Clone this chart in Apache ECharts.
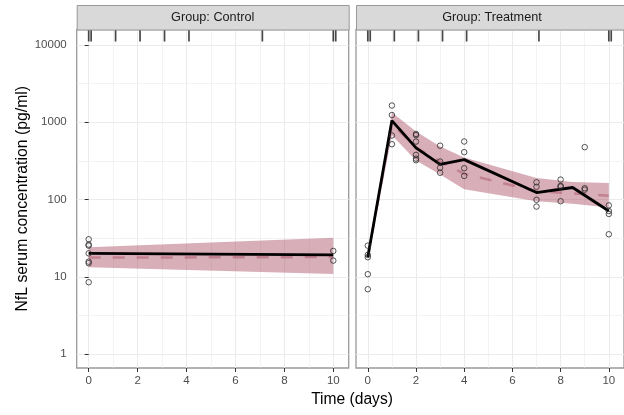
<!DOCTYPE html>
<html><head><meta charset="utf-8">
<script src="https://cdn.jsdelivr.net/npm/echarts@6/dist/echarts.min.js"></script>
<style>html,body{margin:0;padding:0;background:#fff}#c{width:624px;height:415px}</style>
</head><body><div id="c"></div>
<script>
const panelTitles = ['Group: Control', 'Group: Treatment'];
const xTicks = [0, 2, 4, 6, 8, 10];
const xMinor = [1, 3, 5, 7, 9];
const yTicks = [1, 10, 100, 1000, 10000];
const yMinor = [3.16, 31.6, 316, 3160];
const rugTimes = [0, 0.1, 1.1, 2.1, 3.1, 4.1, 7.1, 10, 10.1];

const ctrlObsTime = [0, 0, 0, 0, 0, 0, 0, 10, 10];
const ctrlObsConc = [30.6, 26.1, 25.3, 20.1, 15.7, 15.0, 8.5, 21.6, 16.2];
const ctrlMedTime = [0, 10];
const ctrlMedConc = [20.1, 19.2];
const ctrlBandTime = [0, 10];
const ctrlBandLow = [13.3, 10.9];
const ctrlBandHigh = [24.1, 32.1];
const ctrlPredMed = [17.7, 18.0];

const trtObsTime = [0, 0, 0, 0, 0, 1, 1, 1, 1, 2, 2, 2, 2, 2, 2, 3, 3, 3, 3, 4, 4, 4, 4, 7, 7, 7, 7, 8, 8, 8, 8, 9, 9, 9, 10, 10, 10, 10];
const trtObsConc = [25.3, 19.2, 17.9, 10.8, 6.9, 1645, 1240, 673, 520, 705, 681, 562, 378, 338, 322, 497, 310, 258, 222, 563, 410, 254, 202, 167, 146, 99, 81, 181, 150, 147, 95, 476, 140, 134, 84, 71, 65, 35.5];
const trtMedTime = [0, 1, 2, 3, 4, 7, 8.5, 10];
const trtMedConc = [18, 1050, 465, 285, 328, 123, 143, 71];
const trtBandTime = [0, 1, 2, 3, 4, 7, 8.5, 10];
const trtBandLow = [16.5, 680, 320, 210, 136, 95, 88, 79];
const trtBandHigh = [20, 1340, 760, 485, 350, 190, 168, 163];
const trtPredMed = [18, 950, 470, 310, 215, 128, 120, 112];

const FONT = '"Liberation Sans", Arial, Helvetica, sans-serif';
const X_MIN = -0.49, X_MAX = 10.63, Y_MIN = 0.66, Y_MAX = 15850;
const GRID_TOP = 29.5, GRID_H = 338.5, GRID_W = 272;
const gridLefts = [76.7, 356];

const chart = echarts.init(document.getElementById('c'), null, {renderer: 'canvas'});

function xAxisCfg(gi) {
  return {
    type: 'value', gridIndex: gi, min: X_MIN, max: X_MAX,
    axisLine: {show: false},
    axisTick: {show: true, length: 4, customValues: xTicks, lineStyle: {color: '#333', width: 1}},
    axisLabel: {customValues: xTicks, margin: 7, color: '#4d4d4d', fontSize: 11.5, fontFamily: FONT},
    splitLine: {show: true, lineStyle: {color: '#ebebeb', width: 1}}
  };
}
function yAxisCfg(gi) {
  const left = gi === 0;
  const c = {
    type: 'log', logBase: 10, gridIndex: gi, min: Y_MIN, max: Y_MAX,
    axisLine: {show: false},
    axisTick: {show: left, length: 4, customValues: yTicks, lineStyle: {color: '#333', width: 1}},
    axisLabel: {show: left, customValues: yTicks, margin: 10, color: '#4d4d4d', fontSize: 11.5, fontFamily: FONT,
      formatter: v => String(Math.round(v))},
    splitLine: {show: true, lineStyle: {color: '#ebebeb', width: 1}}
  };
  if (left) {
    c.name = 'NfL serum concentration (pg/ml)';
    c.nameLocation = 'middle';
    c.nameGap = 46;
    c.nameRotate = 90;
    c.nameTextStyle = {fontSize: 15.8, color: '#000', fontFamily: FONT};
  }
  return c;
}

function bandSeries(gi, t, lo, hi) {
  return {
    type: 'custom', xAxisIndex: gi, yAxisIndex: gi, z: 2, silent: true,
    data: t.map((v, i) => [v, lo[i], hi[i]]),
    renderItem: function (params, api) {
      if (params.dataIndex !== 0) return;
      const pts = [];
      for (let i = 0; i < t.length; i++) pts.push(api.coord([t[i], hi[i]]));
      for (let i = t.length - 1; i >= 0; i--) pts.push(api.coord([t[i], lo[i]]));
      return {type: 'polygon', shape: {points: pts}, style: {fill: 'rgba(169,75,97,0.45)'}};
    }
  };
}
function minorSeries(gi) {
  return {
    type: 'line', xAxisIndex: gi, yAxisIndex: gi, data: [], z: 1, silent: true,
    markLine: {
      z: 1, silent: true, symbol: 'none', label: {show: false}, animation: false,
      lineStyle: {color: '#ebebeb', width: 0.6, type: 'solid'},
      data: xMinor.map(v => ({xAxis: v})).concat(yMinor.map(v => ({yAxis: v})))
    }
  };
}
function predMedSeries(gi, t, v) {
  return {type: 'line', xAxisIndex: gi, yAxisIndex: gi, z: 3, silent: true, showSymbol: false,
    data: t.map((x, i) => [x, v[i]]),
    lineStyle: {color: 'rgba(169,75,97,0.45)', width: 2.5, type: [12, 12]}};
}
function medSeries(gi, t, v) {
  return {type: 'line', xAxisIndex: gi, yAxisIndex: gi, z: 4, silent: true, showSymbol: false,
    data: t.map((x, i) => [x, v[i]]),
    lineStyle: {color: '#000', width: 2.8}};
}
function obsSeries(gi, t, v) {
  return {type: 'scatter', xAxisIndex: gi, yAxisIndex: gi, z: 5, silent: true,
    symbol: 'circle', symbolSize: 5.5,
    data: t.map((x, i) => [x, v[i]]),
    itemStyle: {color: 'rgba(0,0,0,0)', borderColor: '#2b2b2b', borderWidth: 1}};
}
function rugSeries(gi) {
  return {type: 'scatter', xAxisIndex: gi, yAxisIndex: gi, z: 6, silent: true, clip: false,
    symbol: 'rect', symbolSize: [1.7, 12], symbolOffset: [0, 6],
    data: rugTimes.map(x => [x, Y_MAX]),
    itemStyle: {color: '#1a1a1a'}};
}

const graphics = [];
gridLefts.forEach((l, i) => {
  graphics.push({type: 'rect', left: l, top: 5, z: 10,
    shape: {x: 0, y: 0, width: GRID_W, height: GRID_TOP - 5},
    style: {fill: '#d9d9d9', stroke: '#999', lineWidth: 1}});
  graphics.push({type: 'text', x: l + GRID_W / 2, y: 17.5, z: 11,
    style: {text: panelTitles[i], fill: '#1a1a1a', font: '12.7px ' + FONT, textAlign: 'center', textVerticalAlign: 'middle'}});
});
graphics.push({type: 'text', x: 352, y: 400, z: 11,
  style: {text: 'Time (days)', fill: '#000', font: '15.6px ' + FONT, textAlign: 'center', textVerticalAlign: 'middle'}});

const option = {
  animation: false,
  backgroundColor: '#fff',
  textStyle: {fontFamily: FONT},
  grid: gridLefts.map(l => ({left: l, top: GRID_TOP, width: GRID_W, height: GRID_H,
    show: true, backgroundColor: '#fff', borderColor: '#999', borderWidth: 1.3, containLabel: false})),
  xAxis: [xAxisCfg(0), xAxisCfg(1)],
  yAxis: [yAxisCfg(0), yAxisCfg(1)],
  graphic: graphics,
  series: [
    minorSeries(0), minorSeries(1),
    bandSeries(0, ctrlBandTime, ctrlBandLow, ctrlBandHigh),
    bandSeries(1, trtBandTime, trtBandLow, trtBandHigh),
    predMedSeries(0, ctrlBandTime, ctrlPredMed),
    predMedSeries(1, trtBandTime, trtPredMed),
    medSeries(0, ctrlMedTime, ctrlMedConc),
    medSeries(1, trtMedTime, trtMedConc),
    obsSeries(0, ctrlObsTime, ctrlObsConc),
    obsSeries(1, trtObsTime, trtObsConc),
    rugSeries(0), rugSeries(1)
  ]
};
chart.setOption(option);
</script></body></html>
